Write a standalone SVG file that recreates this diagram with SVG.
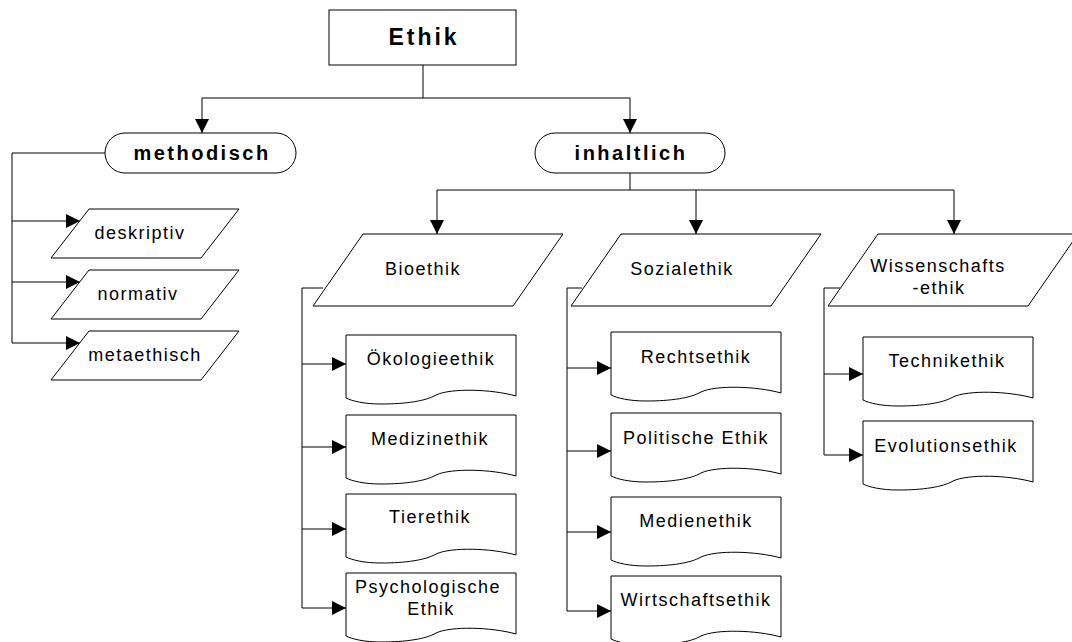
<svg xmlns="http://www.w3.org/2000/svg" width="1072" height="642" viewBox="0 0 1072 642">
<defs>
<style>
.s{fill:#fff;stroke:#000;stroke-width:1}
.c{fill:none;stroke:#000;stroke-width:1}
.t{font-family:"Liberation Sans",Arial,sans-serif;font-size:18px;letter-spacing:1.5px;fill:#000;text-anchor:middle}
.b{font-family:"Liberation Sans",Arial,sans-serif;font-size:20px;font-weight:bold;letter-spacing:2.5px;fill:#000;text-anchor:middle}
</style>
<marker id="a" markerUnits="userSpaceOnUse" markerWidth="14" markerHeight="14" refX="14" refY="7" orient="auto">
<path d="M0,0 L14,7 L0,14 Z" fill="#000"/>
</marker>
<path id="doc" d="M0,0 H170 V61 C145,54 105,53 90,60 C80,66 60,69 35,69 C18,69 6,66 0,63 Z"/>
</defs>
<rect width="1072" height="642" fill="#fff"/>

<g id="connectors" class="c">
<path d="M423,65 V98 M202,98 H630"/>
<path d="M202,98 V133" marker-end="url(#a)"/>
<path d="M630,98 V133" marker-end="url(#a)"/>
<path d="M630,173 V190 M437,190 H954"/>
<path d="M437,190 V234" marker-end="url(#a)"/>
<path d="M696,190 V234" marker-end="url(#a)"/>
<path d="M954,190 V234" marker-end="url(#a)"/>
<path d="M105,153 H12 V343"/>
<path d="M12,221 H80" marker-end="url(#a)"/>
<path d="M12,282 H80" marker-end="url(#a)"/>
<path d="M12,343 H80" marker-end="url(#a)"/>
<path d="M323,288 H302 V608"/>
<path d="M302,364 H346" marker-end="url(#a)"/>
<path d="M302,447 H346" marker-end="url(#a)"/>
<path d="M302,529 H346" marker-end="url(#a)"/>
<path d="M302,608 H346" marker-end="url(#a)"/>
<path d="M582,288 H567 V611"/>
<path d="M567,368 H611" marker-end="url(#a)"/>
<path d="M567,451 H611" marker-end="url(#a)"/>
<path d="M567,532 H611" marker-end="url(#a)"/>
<path d="M567,611 H611" marker-end="url(#a)"/>
<path d="M840,288 H824 V455"/>
<path d="M824,374 H863" marker-end="url(#a)"/>
<path d="M824,455 H863" marker-end="url(#a)"/>
</g>

<g id="ethik">
<rect class="s" x="329" y="10" width="187" height="55"/>
<text class="b" x="424" y="45" style="font-size:23px;letter-spacing:3px">Ethik</text>
</g>

<g id="methodisch">
<rect class="s" x="105" y="133" width="191" height="40" rx="20" ry="20"/>
<text class="b" x="202" y="160">methodisch</text>
</g>

<g id="inhaltlich">
<rect class="s" x="535" y="133" width="190" height="40" rx="20" ry="20"/>
<text class="b" x="631" y="160">inhaltlich</text>
</g>

<g id="deskriptiv">
<path class="s" d="M89,209 H239 L201,258 H51 Z"/>
<text class="t" x="140" y="239">deskriptiv</text>
</g>
<g id="normativ">
<path class="s" d="M89,270 H239 L201,319 H51 Z"/>
<text class="t" x="138" y="300">normativ</text>
</g>
<g id="metaethisch">
<path class="s" d="M89,331 H239 L201,380 H51 Z"/>
<text class="t" x="145" y="361">metaethisch</text>
</g>

<g id="bioethik">
<path class="s" d="M363,234 H563 L513,306 H313 Z"/>
<text class="t" x="423" y="275">Bioethik</text>
</g>
<g id="sozialethik">
<path class="s" d="M621,234 H821 L771,306 H571 Z"/>
<text class="t" x="682" y="275">Sozialethik</text>
</g>
<g id="wissenschaftsethik">
<path class="s" d="M878,234 H1078 L1028,306 H828 Z"/>
<text class="t" x="938" y="272">Wissenschafts</text>
<text class="t" x="939" y="294">-ethik</text>
</g>

<g id="oekologieethik">
<use href="#doc" class="s" x="346" y="335"/>
<text class="t" x="431" y="365">Ökologieethik</text>
</g>
<g id="medizinethik">
<use href="#doc" class="s" x="346" y="415"/>
<text class="t" x="430" y="445">Medizinethik</text>
</g>
<g id="tierethik">
<use href="#doc" class="s" x="346" y="494"/>
<text class="t" x="430" y="523">Tierethik</text>
</g>
<g id="psychologische-ethik">
<use href="#doc" class="s" x="346" y="573"/>
<text class="t" x="428" y="593">Psychologische</text>
<text class="t" x="431" y="615">Ethik</text>
</g>

<g id="rechtsethik">
<use href="#doc" class="s" x="611" y="332"/>
<text class="t" x="696" y="363">Rechtsethik</text>
</g>
<g id="politische-ethik">
<use href="#doc" class="s" x="611" y="413"/>
<text class="t" x="696" y="444">Politische Ethik</text>
</g>
<g id="medienethik">
<use href="#doc" class="s" x="611" y="497"/>
<text class="t" x="696" y="527">Medienethik</text>
</g>
<g id="wirtschaftsethik">
<use href="#doc" class="s" x="611" y="576"/>
<text class="t" x="696" y="606">Wirtschaftsethik</text>
</g>

<g id="technikethik">
<use href="#doc" class="s" x="863" y="337"/>
<text class="t" x="947" y="367">Technikethik</text>
</g>
<g id="evolutionsethik">
<use href="#doc" class="s" x="863" y="421"/>
<text class="t" x="946" y="452">Evolutionsethik</text>
</g>
</svg>
